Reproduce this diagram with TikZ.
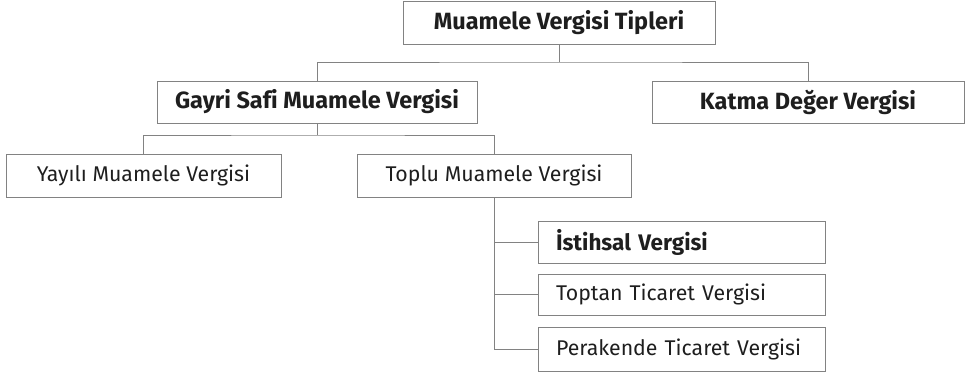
\documentclass[tikz,border=0pt]{standalone}
\usepackage{fontspec}
\setmainfont[Ligatures=NoCommon]{Fira Sans}
\usepackage{xcolor}
\usepackage{tikz}
\definecolor{linegray}{RGB}{130,130,130}
\definecolor{textdark}{RGB}{30,30,30}

\begin{document}
\begin{tikzpicture}[x=1pt,y=-1pt,
	box/.style={draw=linegray,line width=1pt,rectangle,inner sep=0pt,
		text=textdark,font=\fontsize{21.3}{24}\selectfont},
	boldbox/.style={box,font=\fontsize{23.5}{26}\selectfont\bfseries},
	leftbox/.style={box,minimum height=#1,text width=251pt,inner xsep=18pt,align=left},
	conn/.style={draw=linegray,line width=1pt}
]
	\useasboundingbox (0,0) rectangle (965,373);
	%
	\node[boldbox,minimum width=312pt,minimum height=43pt] (tipleri) at (559,22.5) {Muamele Vergisi Tipleri};
	\node[boldbox,minimum width=320pt,minimum height=42pt] (gsmv) at (317,102) {Gayri Safi Muamele Vergisi};
	\node[boldbox,minimum width=312pt,minimum height=42pt] (kdv) at (808,102) {Katma Değer Vergisi};
	\node[box,minimum width=275pt,minimum height=43pt] (yayili) at (143.5,175.5) {Yayılı Muamele Vergisi};
	\node[box,minimum width=274pt,minimum height=43pt] (toplu) at (494,175.5) {Toplu Muamele Vergisi};
	\node[leftbox=42pt,font=\fontsize{22.5}{26}\selectfont\bfseries] (istihsal) at (681.5,242) {İstihsal Vergisi};
	\node[leftbox=41pt] (toptan) at (681.5,294.5) {Toptan Ticaret Vergisi};
	\node[leftbox=44pt] (perakende) at (681.5,349) {Perakende Ticaret Vergisi};
	%
	\coordinate (bus1) at (559,62);
	\coordinate (bus2) at (317,135);
	%
	\path[conn] (tipleri.south) -- (bus1);
	\path[conn] (gsmv.north) |- (bus1) -| (kdv.north);
	\path[conn] (gsmv.south) -- (bus2);
	\path[conn] (yayili.north) |- (bus2) -| (toplu.north);
	\path[conn] (toplu.south) |- (perakende.west);
	\path[conn] (toplu.south |- istihsal.west) -- (istihsal.west);
	\path[conn] (toplu.south |- toptan.west) -- (toptan.west);
\end{tikzpicture}
\end{document}
